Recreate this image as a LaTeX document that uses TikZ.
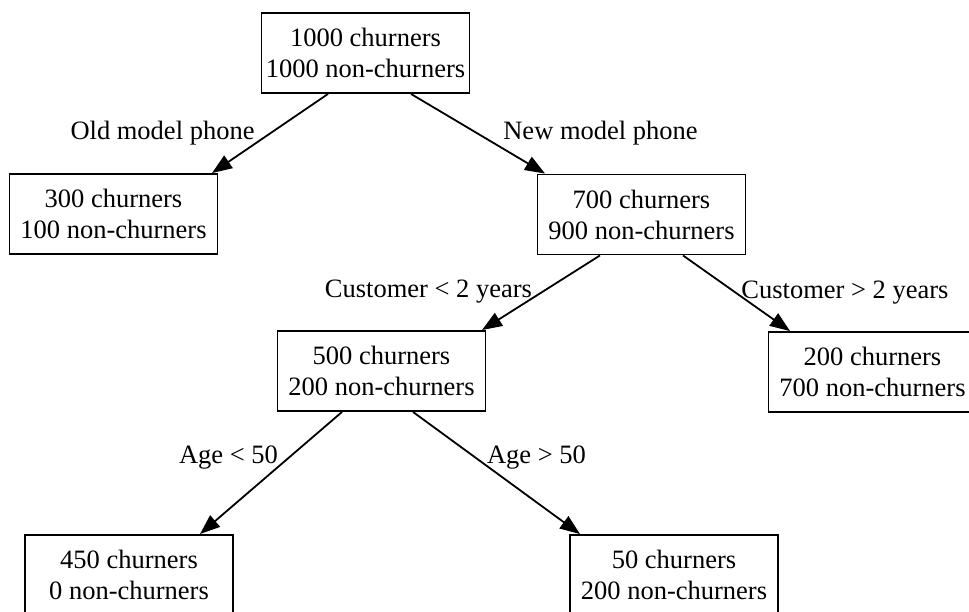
\documentclass[tikz,border=0pt]{standalone}
\usepackage{fontspec}
\setmainfont{Liberation Serif}
\usetikzlibrary{arrows.meta}
\begin{document}
\begin{tikzpicture}[x=1pt,y=-1pt,
  box/.style={draw,line width=1.9pt,minimum width=208pt,minimum height=80pt,
    inner sep=0pt,align=center,font=\fontsize{26.5}{31}\selectfont},
  lbl/.style={inner sep=0pt,font=\fontsize{26.5}{31}\selectfont},
  split/.style={line width=1.8pt,-{Triangle[length=20pt,width=15pt]}}]
\useasboundingbox (0,0) rectangle (969,612);
\clip (0,0) rectangle (969,612);

% tree nodes
\node[box] (root)  at (365.5,53)  {1000 churners\\1000 non-churners};
\node[box] (old)   at (113.5,214) {300 churners\\100 non-churners};
\node[box] (new)   at (641.5,214.5) {700 churners\\900 non-churners};
\node[box] (young) at (381.5,371) {500 churners\\200 non-churners};
\node[box] (loyal) at (872.5,372) {200 churners\\700 non-churners};
\node[box] (under) at (129,575)   {450 churners\\0 non-churners};
\node[box] (over)  at (674,575)   {50 churners\\200 non-churners};

% branches
\draw[split] ([xshift=-37.5pt]root.south) -- ([xshift=98.5pt]old.north);
\draw[split] ([xshift=45.5pt]root.south) -- ([xshift=-96.5pt]new.north);
\draw[split] ([xshift=-41.5pt]new.south) -- ([xshift=100.5pt]young.north);
\draw[split] ([xshift=41.5pt]new.south) -- ([xshift=-82.5pt]loyal.north);
\draw[split] ([xshift=-39.5pt]young.south) -- ([xshift=71pt]under.north);
\draw[split] ([xshift=31.5pt]young.south) -- ([xshift=-94pt]over.north);

% branch conditions
\node[lbl] (lold)   at (162.5,133) {Old model phone};
\node[lbl] (lnew)   at (600.5,133) {New model phone};
\node[lbl] (lyoung) at (428.5,292) {Customer < 2 years};
\node[lbl] (lloyal) at (845,293)   {Customer > 2 years};
\node[lbl] (lunder) at (228.5,458) {Age < 50};
\node[lbl] (lover)  at (536.5,458) {Age > 50};
\end{tikzpicture}
\end{document}
